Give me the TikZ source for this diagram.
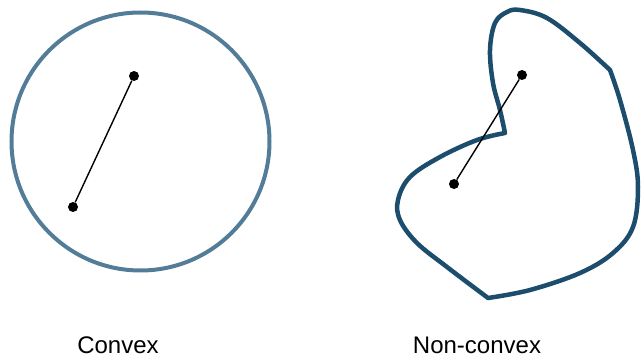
\documentclass[tikz,border=0pt]{standalone}
\usepackage{fontspec}
\setmainfont{Liberation Sans}
\definecolor{convexblue}{HTML}{527C98}
\definecolor{nonconvexblue}{HTML}{1C4D6D}
\begin{document}
\begin{tikzpicture}[x=1pt,y=-1pt,
  dot/.style={circle,fill=black,inner sep=0pt,minimum size=10pt},
  seg/.style={line width=1.4pt,black},
  label/.style={anchor=base,font=\fontsize{24}{28}\selectfont,inner sep=0pt}]
\useasboundingbox (0,0) rectangle (641,358);
% convex shape
\node[draw=convexblue,line width=4pt,circle,minimum size=258pt,inner sep=0pt] (circ) at (140.5,141.5) {};
\node[dot] (c1) at (134,76) {};
\node[dot] (c2) at (73,207) {};
\draw[seg] (c1) -- (c2);
% non-convex shape
\draw[nonconvexblue,line width=4.5pt,line join=round]
  plot[smooth,tension=0.6] coordinates {(505,133) (500,110) (493,83) (490,50) (495,23) (507,12) (520,10) (547,18) (580,43) (610,70)}
  -- plot[smooth,tension=0.6] coordinates {(610,70) (620,100) (633,150) (638,187) (633,227) (613,253) (580,273) (530,290) (488,298)}
  -- plot[smooth,tension=0.6] coordinates {(488,298) (447,267) (417,243) (400,220) (398,200) (410,177) (440,157) (477,140) (505,133)}
  -- cycle;
\node[dot] (n1) at (522,75) {};
\node[dot] (n2) at (454,184) {};
\draw[seg] (n1) -- (n2);
% labels
\node[label] (lc) at (118,353.5) {Convex};
\node[label] (ln) at (477,353.5) {Non-convex};
\end{tikzpicture}
\end{document}
